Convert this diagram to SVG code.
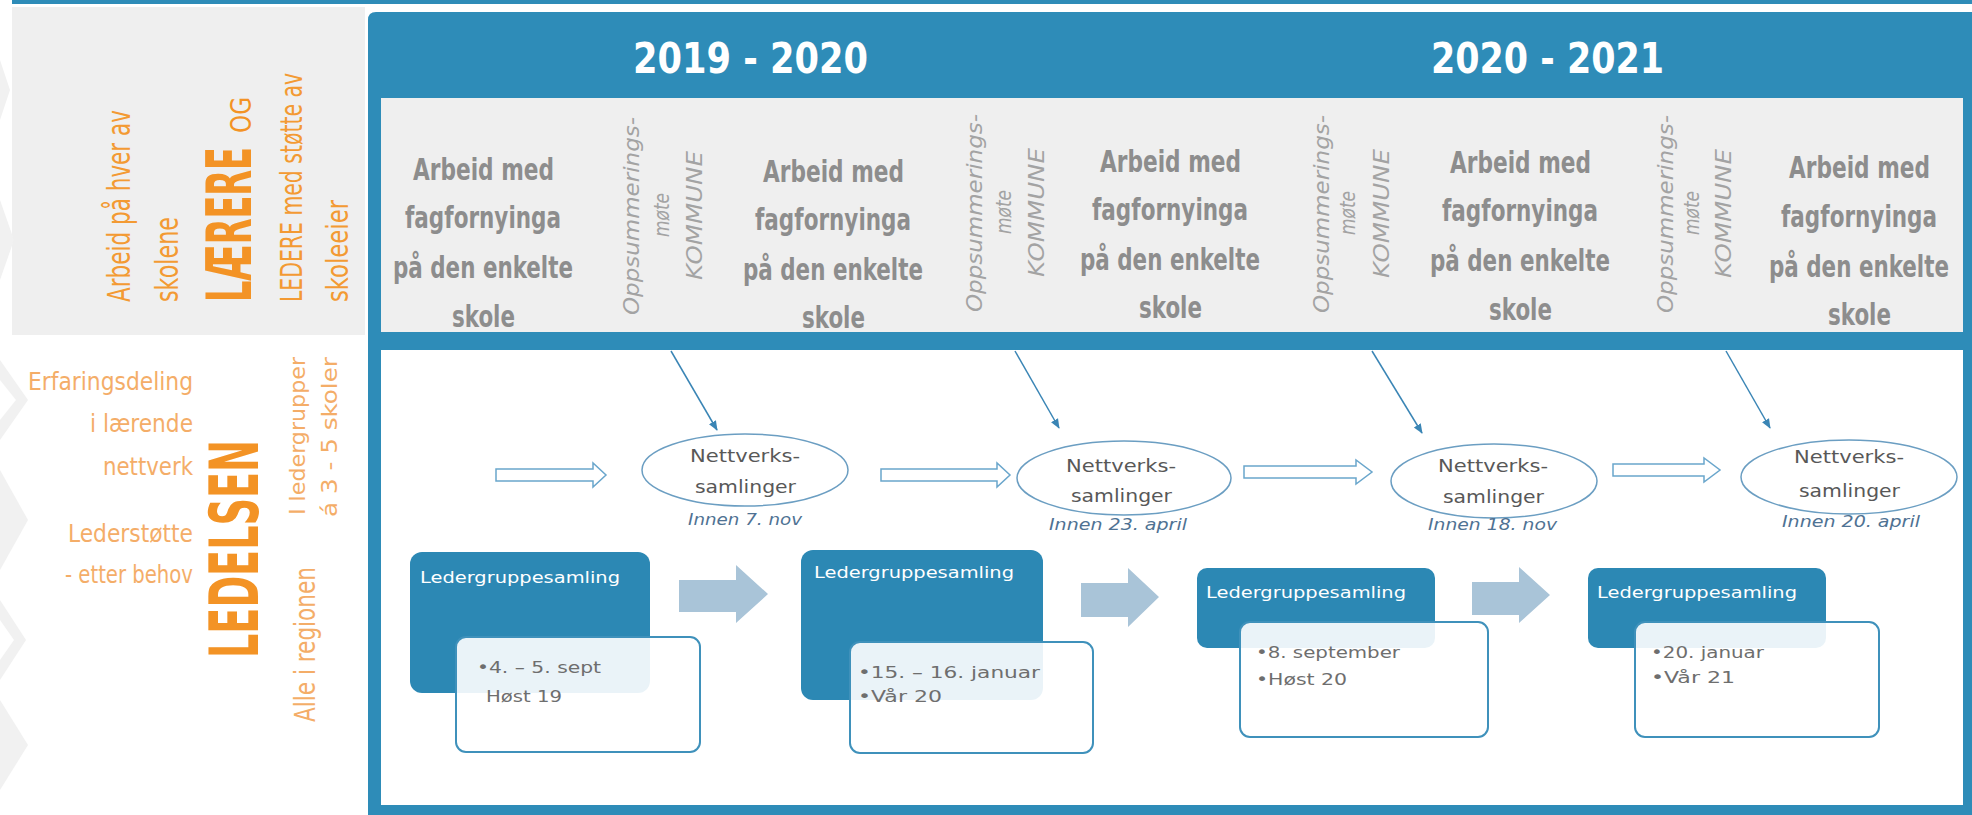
<svg xmlns="http://www.w3.org/2000/svg" width="1972" height="815" viewBox="0 0 1972 815">
<style>
.cond{font-family:'Liberation Sans Narrow','DejaVu Sans Condensed','Liberation Sans',sans-serif;}
.or1{fill:#f39a33;}
.or2{fill:#f4ad68;}
.col{font-size:30px;fill:#8d8d8d;font-weight:bold;}
.opp{font-family:'DejaVu Sans','Liberation Sans',sans-serif;font-style:italic;font-size:21px;fill:#a3a3a3;}
.year{font-size:42px;font-weight:bold;fill:#ffffff;}
.gth{font-family:'DejaVu Sans','Liberation Sans',sans-serif;}
.nv{font-size:17px;fill:#585858;}
.inn{font-size:15px;font-style:italic;fill:#4f7293;}
.ttl{font-size:16px;fill:#ffffff;}
.bx{font-size:16px;fill:#6e6e6e;}
.ell{fill:#ffffff;stroke:#6b9ec2;stroke-width:1.5;}
.dark{fill:#2c88b4;}
.wbox{fill:#ffffff;fill-opacity:0.9;stroke:#3f91bb;stroke-width:2;}
.blk{fill:#a9c4d8;}
.hol{fill:#ffffff;stroke:#6aa6cc;stroke-width:1.5;}
.con{stroke:#3a85b5;stroke-width:1.5;fill:none;}
</style>
<defs>
<marker id="ah" viewBox="0 0 10 10" refX="9" refY="5" markerWidth="10" markerHeight="10" markerUnits="userSpaceOnUse" orient="auto">
<path d="M0,1 L10,5 L0,9 Z" fill="#3a85b5"/>
</marker>
</defs>
<rect x="0" y="0" width="1972" height="815" fill="#ffffff"/>
<g id="background">
<rect x="12" y="0" width="1960" height="4" fill="#2e8cb8"/>
<rect x="12" y="7" width="353" height="328" fill="#efefef"/>
<g fill="#f1f1f1">
<polygon points="0,60 10,90 0,120"/>
<polygon points="0,200 14,240 0,280"/>
<polygon points="0,360 28,400 0,440 0,420 16,400 0,380"/>
<polygon points="0,470 28,520 0,570"/>
<polygon points="0,600 26,640 0,680 0,660 14,640 0,620"/>
<polygon points="0,700 28,745 0,790"/>
</g>
<path d="M368,20 Q368,12 376,12 L1972,12 L1972,815 L368,815 Z" fill="#2e8cb8"/>
<rect x="381" y="98" width="1582" height="234" fill="#efefef"/>
<rect x="381" y="350" width="1582" height="455" fill="#ffffff"/>
</g>
<g id="left-labels" class="cond">
<text class="or1" font-size="32" transform="translate(130,302) rotate(-90)" textLength="192" lengthAdjust="spacingAndGlyphs">Arbeid på hver av</text>
<text class="or1" font-size="32" transform="translate(178,302) rotate(-90)" textLength="85" lengthAdjust="spacingAndGlyphs">skolene</text>
<text fill="#f39325" font-size="62" font-weight="bold" transform="translate(251,302) rotate(-90)" textLength="155" lengthAdjust="spacingAndGlyphs">LÆRERE</text>
<text fill="#f39325" font-size="28" transform="translate(251,133) rotate(-90)" textLength="36" lengthAdjust="spacingAndGlyphs">OG</text>
<text class="or1" font-size="30" transform="translate(302,302) rotate(-90)" textLength="229" lengthAdjust="spacingAndGlyphs">LEDERE med støtte av</text>
<text class="or1" font-size="30" transform="translate(348,302) rotate(-90)" textLength="102" lengthAdjust="spacingAndGlyphs">skoleeier</text>
<text class="or2" font-size="25" x="28" y="390" textLength="165" lengthAdjust="spacingAndGlyphs">Erfaringsdeling</text>
<text class="or2" font-size="25" x="90" y="432" textLength="103" lengthAdjust="spacingAndGlyphs">i lærende</text>
<text class="or2" font-size="25" x="103" y="475" textLength="90" lengthAdjust="spacingAndGlyphs">nettverk</text>
<text class="or2" font-size="25" x="68" y="542" textLength="125" lengthAdjust="spacingAndGlyphs">Lederstøtte</text>
<text class="or2" font-size="25" x="65" y="583" textLength="128" lengthAdjust="spacingAndGlyphs">- etter behov</text>
<text fill="#f39325" font-size="68" font-weight="bold" transform="translate(258,658) rotate(-90)" textLength="218" lengthAdjust="spacingAndGlyphs">LEDELSEN</text>
<text class="or2" font-size="22" transform="translate(305,515) rotate(-90)" textLength="158" lengthAdjust="spacingAndGlyphs">I ledergrupper</text>
<text class="or2" font-size="22" transform="translate(337,517) rotate(-90)" textLength="160" lengthAdjust="spacingAndGlyphs">á 3 - 5 skoler</text>
<text class="or2" font-size="28" transform="translate(315,722) rotate(-90)" textLength="155" lengthAdjust="spacingAndGlyphs">Alle i regionen</text>
</g>
<g id="years" class="cond">
<text class="year" x="633" y="73" textLength="235" lengthAdjust="spacingAndGlyphs">2019 - 2020</text>
<text class="year" x="1431" y="73" textLength="233" lengthAdjust="spacingAndGlyphs">2020 - 2021</text>
</g>
<g id="work1" class="cond col">
<text class="col" x="413" y="180" textLength="141" lengthAdjust="spacingAndGlyphs">Arbeid med</text>
<text class="col" x="405" y="228" textLength="156" lengthAdjust="spacingAndGlyphs">fagfornyinga</text>
<text class="col" x="393" y="278" textLength="180" lengthAdjust="spacingAndGlyphs">på den enkelte</text>
<text class="col" x="452" y="327" textLength="63" lengthAdjust="spacingAndGlyphs">skole</text>
</g>
<g id="work2" class="cond col">
<text class="col" x="763" y="182" textLength="141" lengthAdjust="spacingAndGlyphs">Arbeid med</text>
<text class="col" x="755" y="230" textLength="156" lengthAdjust="spacingAndGlyphs">fagfornyinga</text>
<text class="col" x="743" y="280" textLength="180" lengthAdjust="spacingAndGlyphs">på den enkelte</text>
<text class="col" x="802" y="328" textLength="63" lengthAdjust="spacingAndGlyphs">skole</text>
</g>
<g id="work3" class="cond col">
<text class="col" x="1100" y="172" textLength="141" lengthAdjust="spacingAndGlyphs">Arbeid med</text>
<text class="col" x="1092" y="220" textLength="156" lengthAdjust="spacingAndGlyphs">fagfornyinga</text>
<text class="col" x="1080" y="270" textLength="180" lengthAdjust="spacingAndGlyphs">på den enkelte</text>
<text class="col" x="1139" y="318" textLength="63" lengthAdjust="spacingAndGlyphs">skole</text>
</g>
<g id="work4" class="cond col">
<text class="col" x="1450" y="173" textLength="141" lengthAdjust="spacingAndGlyphs">Arbeid med</text>
<text class="col" x="1442" y="221" textLength="156" lengthAdjust="spacingAndGlyphs">fagfornyinga</text>
<text class="col" x="1430" y="271" textLength="180" lengthAdjust="spacingAndGlyphs">på den enkelte</text>
<text class="col" x="1489" y="320" textLength="63" lengthAdjust="spacingAndGlyphs">skole</text>
</g>
<g id="work5" class="cond col">
<text class="col" x="1789" y="178" textLength="141" lengthAdjust="spacingAndGlyphs">Arbeid med</text>
<text class="col" x="1781" y="227" textLength="156" lengthAdjust="spacingAndGlyphs">fagfornyinga</text>
<text class="col" x="1769" y="277" textLength="180" lengthAdjust="spacingAndGlyphs">på den enkelte</text>
<text class="col" x="1828" y="325" textLength="63" lengthAdjust="spacingAndGlyphs">skole</text>
</g>
<g id="meeting1">
<text class="opp" transform="translate(639,315) rotate(-90)" textLength="198" lengthAdjust="spacingAndGlyphs">Oppsummerings-</text>
<text class="opp" transform="translate(669,237) rotate(-90)" textLength="44" lengthAdjust="spacingAndGlyphs">møte</text>
<text class="opp" transform="translate(702,280) rotate(-90)" textLength="129" lengthAdjust="spacingAndGlyphs">KOMMUNE</text>
</g>
<g id="meeting2">
<text class="opp" transform="translate(982,312) rotate(-90)" textLength="198" lengthAdjust="spacingAndGlyphs">Oppsummerings-</text>
<text class="opp" transform="translate(1011,234) rotate(-90)" textLength="44" lengthAdjust="spacingAndGlyphs">møte</text>
<text class="opp" transform="translate(1044,277) rotate(-90)" textLength="129" lengthAdjust="spacingAndGlyphs">KOMMUNE</text>
</g>
<g id="meeting3">
<text class="opp" transform="translate(1329,313) rotate(-90)" textLength="198" lengthAdjust="spacingAndGlyphs">Oppsummerings-</text>
<text class="opp" transform="translate(1355,235) rotate(-90)" textLength="44" lengthAdjust="spacingAndGlyphs">møte</text>
<text class="opp" transform="translate(1389,278) rotate(-90)" textLength="129" lengthAdjust="spacingAndGlyphs">KOMMUNE</text>
</g>
<g id="meeting4">
<text class="opp" transform="translate(1673,313) rotate(-90)" textLength="198" lengthAdjust="spacingAndGlyphs">Oppsummerings-</text>
<text class="opp" transform="translate(1699,235) rotate(-90)" textLength="44" lengthAdjust="spacingAndGlyphs">møte</text>
<text class="opp" transform="translate(1731,278) rotate(-90)" textLength="129" lengthAdjust="spacingAndGlyphs">KOMMUNE</text>
</g>
<g id="connectors">
<line class="con" x1="671" y1="351" x2="717" y2="430" marker-end="url(#ah)"/>
<line class="con" x1="1015" y1="351" x2="1059" y2="428" marker-end="url(#ah)"/>
<line class="con" x1="1372" y1="351" x2="1422" y2="433" marker-end="url(#ah)"/>
<line class="con" x1="1726" y1="351" x2="1770" y2="428" marker-end="url(#ah)"/>
<path class="hol" d="M496,469 L593,469 L593,463 L606,475 L593,487 L593,481 L496,481 Z"/>
<path class="hol" d="M881,469 L997,469 L997,463 L1010,475 L997,487 L997,481 L881,481 Z"/>
<path class="hol" d="M1244,466 L1356,466 L1356,460 L1372,472 L1356,484 L1356,478 L1244,478 Z"/>
<path class="hol" d="M1613,464 L1704,464 L1704,458 L1720,470 L1704,482 L1704,476 L1613,476 Z"/>
<path class="blk" d="M679,580 L736,580 L736,565 L768,594 L736,623 L736,612 L679,612 Z"/>
<path class="blk" d="M1081,583 L1128,583 L1128,568 L1159,597 L1128,627 L1128,617 L1081,617 Z"/>
<path class="blk" d="M1472,582 L1519,582 L1519,567 L1550,595 L1519,623 L1519,615 L1472,615 Z"/>
</g>
<g id="network1" class="gth">
<ellipse class="ell" cx="745" cy="470" rx="103" ry="36"/>
<text class="nv" x="690" y="462" textLength="110" lengthAdjust="spacingAndGlyphs">Nettverks-</text>
<text class="nv" x="695" y="493" textLength="101" lengthAdjust="spacingAndGlyphs">samlinger</text>
<text class="inn" x="688" y="525" textLength="114" lengthAdjust="spacingAndGlyphs">Innen 7. nov</text>
</g>
<g id="network2" class="gth">
<ellipse class="ell" cx="1124" cy="478" rx="107" ry="37"/>
<text class="nv" x="1066" y="472" textLength="110" lengthAdjust="spacingAndGlyphs">Nettverks-</text>
<text class="nv" x="1071" y="502" textLength="101" lengthAdjust="spacingAndGlyphs">samlinger</text>
<text class="inn" x="1049" y="530" textLength="138" lengthAdjust="spacingAndGlyphs">Innen 23. april</text>
</g>
<g id="network3" class="gth">
<ellipse class="ell" cx="1494" cy="481" rx="103" ry="37"/>
<text class="nv" x="1438" y="472" textLength="110" lengthAdjust="spacingAndGlyphs">Nettverks-</text>
<text class="nv" x="1443" y="503" textLength="101" lengthAdjust="spacingAndGlyphs">samlinger</text>
<text class="inn" x="1428" y="530" textLength="129" lengthAdjust="spacingAndGlyphs">Innen 18. nov</text>
</g>
<g id="network4" class="gth">
<ellipse class="ell" cx="1849" cy="477" rx="108" ry="37"/>
<text class="nv" x="1794" y="463" textLength="110" lengthAdjust="spacingAndGlyphs">Nettverks-</text>
<text class="nv" x="1799" y="497" textLength="101" lengthAdjust="spacingAndGlyphs">samlinger</text>
<text class="inn" x="1782" y="527" textLength="138" lengthAdjust="spacingAndGlyphs">Innen 20. april</text>
</g>
<g id="leader1" class="gth">
<rect class="dark" x="410" y="552" width="240" height="141" rx="12"/>
<text class="ttl" x="420" y="583" textLength="200" lengthAdjust="spacingAndGlyphs">Ledergruppesamling</text>
<rect class="wbox" x="456" y="637" width="244" height="115" rx="10"/>
<text class="bx" x="477" y="673" textLength="124" lengthAdjust="spacingAndGlyphs">•4. – 5. sept</text>
<text class="bx" x="486" y="702" textLength="76" lengthAdjust="spacingAndGlyphs">Høst 19</text>
</g>
<g id="leader2" class="gth">
<rect class="dark" x="801" y="550" width="242" height="150" rx="12"/>
<text class="ttl" x="814" y="578" textLength="200" lengthAdjust="spacingAndGlyphs">Ledergruppesamling</text>
<rect class="wbox" x="850" y="642" width="243" height="111" rx="10"/>
<text class="bx" x="858" y="678" textLength="182" lengthAdjust="spacingAndGlyphs">•15. – 16. januar</text>
<text class="bx" x="858" y="702" textLength="84" lengthAdjust="spacingAndGlyphs">•Vår 20</text>
</g>
<g id="leader3" class="gth">
<rect class="dark" x="1197" y="568" width="238" height="80" rx="10"/>
<text class="ttl" x="1206" y="598" textLength="200" lengthAdjust="spacingAndGlyphs">Ledergruppesamling</text>
<rect class="wbox" x="1240" y="622" width="248" height="115" rx="10"/>
<text class="bx" x="1256" y="658" textLength="144" lengthAdjust="spacingAndGlyphs">•8. september</text>
<text class="bx" x="1256" y="685" textLength="91" lengthAdjust="spacingAndGlyphs">•Høst 20</text>
</g>
<g id="leader4" class="gth">
<rect class="dark" x="1588" y="568" width="238" height="80" rx="10"/>
<text class="ttl" x="1597" y="598" textLength="200" lengthAdjust="spacingAndGlyphs">Ledergruppesamling</text>
<rect class="wbox" x="1635" y="622" width="244" height="115" rx="10"/>
<text class="bx" x="1651" y="658" textLength="113" lengthAdjust="spacingAndGlyphs">•20. januar</text>
<text class="bx" x="1651" y="683" textLength="84" lengthAdjust="spacingAndGlyphs">•Vår 21</text>
</g>
</svg>
